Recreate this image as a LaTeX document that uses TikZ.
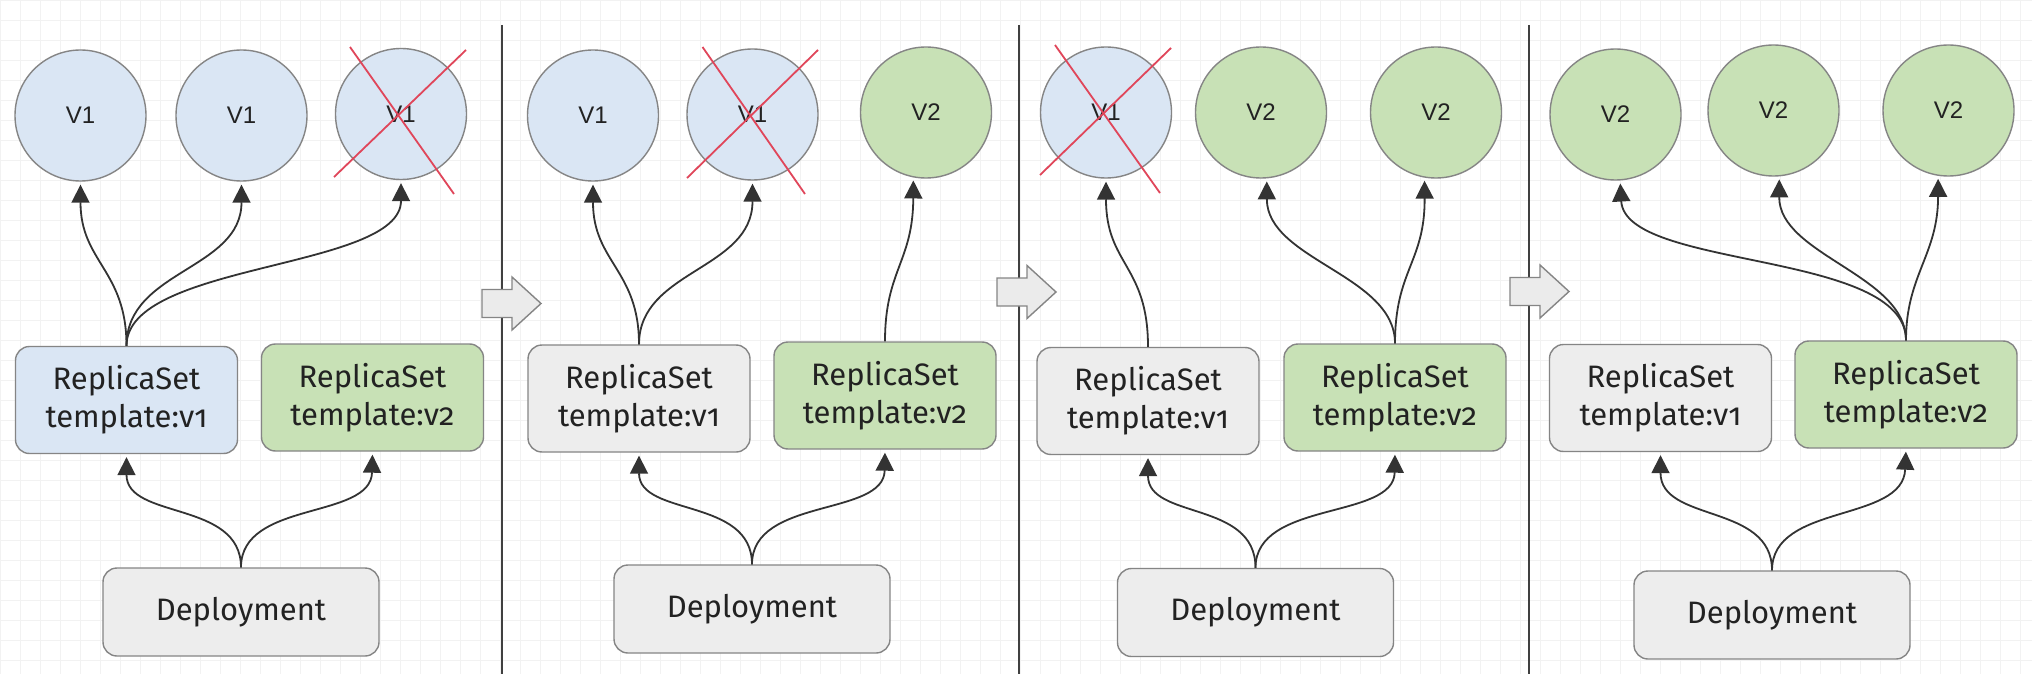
\documentclass[tikz,border=0pt]{standalone}
\usepackage{fontspec}
\setmainfont{Liberation Sans}
\newfontfamily\boxfont[Numbers=OldStyle]{Fira Sans}
\usetikzlibrary{arrows.meta}
\definecolor{pblue}{HTML}{DAE6F4}
\definecolor{pgreen}{HTML}{C8E1B6}
\definecolor{pgray}{HTML}{EDEDED}
\definecolor{strokegray}{HTML}{858585}
\definecolor{txt}{HTML}{222222}
\definecolor{linec}{HTML}{333333}
\definecolor{xred}{HTML}{E0465A}
\definecolor{sepc}{HTML}{404040}
\definecolor{gridc}{HTML}{F2F2F2}
\definecolor{barrowfill}{HTML}{EBEBEB}
\tikzset{
  pod/.style={circle, draw=strokegray, line width=1.4pt, minimum size=131pt, inner sep=0pt,
    font=\fontsize{24}{27}\selectfont, text=txt},
  podA/.style={pod, fill=pblue},
  podB/.style={pod, fill=pgreen},
  rsbox/.style={rectangle, rounded corners=14pt, draw=strokegray, line width=1.4pt,
    minimum width=222pt, minimum height=107pt, inner sep=0pt, align=center,
    font=\boxfont\fontsize{31}{38}\selectfont, text=txt},
  rsblue/.style={rsbox, fill=pblue},
  rsgreen/.style={rsbox, fill=pgreen},
  rsgray/.style={rsbox, fill=pgray},
  depbox/.style={rsbox, minimum width=276pt, minimum height=88pt, fill=pgray},
  link/.style={draw=linec, line width=1.8pt, -{Triangle[length=18pt,width=18pt]}, shorten >=3pt},
  cross/.style={draw=xred, line width=1.8pt},
  sepline/.style={draw=sepc, line width=2pt},
  blockarrow/.pic={
    \draw[fill=barrowfill, draw=strokegray, line width=1.4pt]
      (0,-14) -- (30,-14) -- (30,-26.5) -- (59,0) -- (30,26.5) -- (30,14) -- (0,14) -- cycle;
  },
}
\begin{document}
\begin{tikzpicture}[x=1pt,y=-1pt]
\useasboundingbox (0,0) rectangle (2032,674);
\fill[white] (0,0) rectangle (2032,674);
% faint background grid
\foreach \gx in {0,20,...,2040} {\draw[gridc, line width=0.7pt] (\gx,0) -- (\gx,674);}
\foreach \gy in {0,20,...,680} {\draw[gridc, line width=0.7pt] (0,\gy) -- (2032,\gy);}

% separators
\draw[sepline] (502,25) -- (502,674);
\draw[sepline] (1019,25) -- (1019,674);
\draw[sepline] (1529,25) -- (1529,674);

% block arrows
\pic at (482,303.5) {blockarrow};
\pic at (997,292) {blockarrow};
\pic at (1510,291.5) {blockarrow};

% ---------- panel 1 ----------
\node[podA] (c11) at (80.5,115.5) {V1};
\node[podA] (c12) at (241.5,115.5) {V1};
\node[podA] (c13) at (401,114) {V1};
\node[rsblue] (r11) at (126.5,400) {ReplicaSet\\template:v1};
\node[rsgreen] (r12) at (372.5,397.5) {ReplicaSet\\template:v2};
\node[depbox] (d1) at (241,612) {Deployment};
\draw[link] (r11.north) .. controls (126.5,270) and (80.5,262) .. (c11.south);
\draw[link] (r11.north) .. controls (126.5,270) and (241.5,270) .. (c12.south);
\draw[link] (r11.north) .. controls (126.5,262) and (401,270) .. (c13.south);
\draw[link] (d1.north) .. controls (241,500) and (126.5,520) .. (r11.south);
\draw[link] (d1.north) .. controls (241,500) and (371,520) .. (r12.south);
\draw[cross] ([shift={(-51,-67)}]c13.center) -- ([shift={(53,80)}]c13.center);
\draw[cross] ([shift={(-67,63)}]c13.center) -- ([shift={(65,-64)}]c13.center);

% ---------- panel 2 ----------
\node[podA] (c21) at (593,115.5) {V1};
\node[podA] (c22) at (752.5,114.5) {V1};
\node[podB] (c23) at (926,112.5) {V2};
\node[rsgray] (r21) at (639,398.5) {ReplicaSet\\template:v1};
\node[rsgreen] (r22) at (885,395.5) {ReplicaSet\\template:v2};
\node[depbox] (d2) at (752,609) {Deployment};
\draw[link] (r21.north) .. controls (639,270) and (593,262) .. (c21.south);
\draw[link] (r21.north) .. controls (639,270) and (752.5,270) .. (c22.south);
\draw[link] (r22.north) .. controls (885,270) and (913,262) .. (c23.-101);
\draw[link] (d2.north) .. controls (752,497) and (639,517) .. (r21.south);
\draw[link] (d2.north) .. controls (752,497) and (884,517) .. (r22.south);
\draw[cross] ([shift={(-50,-67.5)}]c22.center) -- ([shift={(52.5,79.5)}]c22.center);
\draw[cross] ([shift={(-65.5,63.5)}]c22.center) -- ([shift={(65.5,-64.5)}]c22.center);

% ---------- panel 3 ----------
\node[podA] (c31) at (1106,112.5) {V1};
\node[podB] (c32) at (1261,112.5) {V2};
\node[podB] (c33) at (1436,112.5) {V2};
\node[rsgray] (r31) at (1148,401) {ReplicaSet\\template:v1};
\node[rsgreen] (r32) at (1395,397.5) {ReplicaSet\\template:v2};
\node[depbox] (d3) at (1255.5,612.5) {Deployment};
\draw[link] (r31.north) .. controls (1148,265) and (1106,265) .. (c31.south);
\draw[link] (r32.north) .. controls (1395,275) and (1267,260) .. (c32.-85);
\draw[link] (r32.north) .. controls (1395,270) and (1425,262) .. (c33.-100);
\draw[link] (d3.north) .. controls (1255.5,500) and (1148,520) .. (r31.south);
\draw[link] (d3.north) .. controls (1255.5,500) and (1394,520) .. (r32.south);
\draw[cross] ([shift={(-51,-67.5)}]c31.center) -- ([shift={(54,80.5)}]c31.center);
\draw[cross] ([shift={(-66,62.5)}]c31.center) -- ([shift={(65,-64.5)}]c31.center);

% ---------- panel 4 ----------
\node[podB] (c41) at (1615.5,114.5) {V2};
\node[podB] (c42) at (1773.5,110.5) {V2};
\node[podB] (c43) at (1948.5,110.5) {V2};
\node[rsgray] (r41) at (1660.5,398) {ReplicaSet\\template:v1};
\node[rsgreen] (r42) at (1906,394.5) {ReplicaSet\\template:v2};
\node[depbox] (d4) at (1772,615) {Deployment};
\draw[link] (r42.north) .. controls (1906,250) and (1625,270) .. (c41.-86);
\draw[link] (r42.north) .. controls (1906,275) and (1779,255) .. (c42.-85);
\draw[link] (r42.north) .. controls (1906,275) and (1938,255) .. (c43.-99);
\draw[link] (d4.north) .. controls (1772,503) and (1660.5,523) .. (r41.south);
\draw[link] (d4.north) .. controls (1772,503) and (1903,523) .. (r42.south);
\end{tikzpicture}
\end{document}
